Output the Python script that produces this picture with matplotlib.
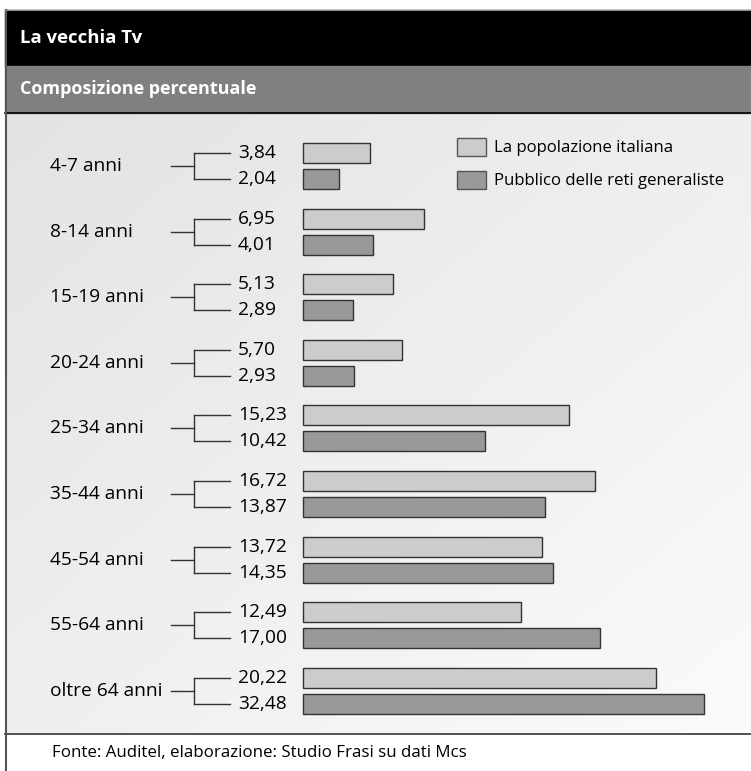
import numpy as np
import matplotlib
matplotlib.use("Agg")
import matplotlib.pyplot as plt
from matplotlib.patches import Rectangle

plt.rcParams['font.family'] = ['Open Sans', 'DejaVu Sans']

# data
age_groups = ["4-7 anni", "8-14 anni", "15-19 anni", "20-24 anni", "25-34 anni",
              "35-44 anni", "45-54 anni", "55-64 anni", "oltre 64 anni"]
popolazione = [3.84, 6.95, 5.13, 5.70, 15.23, 16.72, 13.72, 12.49, 20.22]
pubblico = [2.04, 4.01, 2.89, 2.93, 10.42, 13.87, 14.35, 17.00, 32.48]
series_names = ["La popolazione italiana", "Pubblico delle reti generaliste"]
title = "La vecchia Tv"
subtitle = "Composizione percentuale"
source = "Fonte: Auditel, elaborazione: Studio Frasi su dati Mcs"

W, H = 751, 771
LIGHT = "#cccccc"
DARK = "#999999"
EDGE = "#333333"
BAR_CAP = 23.0      # longest bar is cut short in the original
PX = 17.45          # pixels per percentage point
X0 = 303            # pixel where bars start

fig = plt.figure(figsize=(W / 100, H / 100), dpi=100)

# background / frame in pixel units
bg = fig.add_axes([0, 0, 1, 1])
bg.set_xlim(0, W)
bg.set_ylim(H, 0)
bg.axis("off")

grad_x, grad_y = np.meshgrid(np.linspace(0, 1, 200), np.linspace(0, 1, 200))
grad = 0.5 * grad_x + 0.5 * grad_y
bg.imshow(grad, extent=(6, W, 734, 113), cmap=matplotlib.colors.LinearSegmentedColormap.from_list(
    "g", ["#e3e3e3", "#fbfbfb"]), aspect="auto", zorder=0)
bg.add_patch(Rectangle((5, 10), W, 56, color="black", zorder=1))
bg.add_patch(Rectangle((5, 66), W, 47, color="#808080", zorder=1))
bg.plot([5, W], [113, 113], color="black", lw=1.2, zorder=2)
bg.plot([5, W], [734, 734], color="#444444", lw=1.3, zorder=2)
bg.plot([6, 6], [10, H], color="#555555", lw=1.5, zorder=2)
bg.plot([5, W], [10, 10], color="#888888", lw=0.8, zorder=2)
bg.text(20, 38, title, color="white", fontsize=13.3, fontweight="bold", va="center")
bg.text(20, 89, subtitle, color="white", fontsize=13, fontweight="bold", va="center")
bg.text(52, 753, source, color="black", fontsize=12.2, va="center")

# legend
for k, (name, col) in enumerate(zip(series_names, [LIGHT, DARK])):
    y = 138 + k * 33
    bg.add_patch(Rectangle((457, y), 29, 18, facecolor=col, edgecolor="#555555", lw=1, zorder=3))
    bg.text(494, y + 10, name, fontsize=12.1, va="center", zorder=3)

# bars axes
ax = fig.add_axes([0, (H - 734) / H, 1, (734 - 113) / H])
ax.set_xlim(-X0 / PX, (W - X0) / PX)
pitch = 65.6
ax.set_ylim((734 - 166) / pitch, (113 - 166) / pitch)
ax.axis("off")

def px(x):
    return (x - X0) / PX

pos = np.arange(len(age_groups))
off = 13 / pitch
h = 20 / pitch
ax.barh(pos - off, np.minimum(popolazione, BAR_CAP), height=h, color=LIGHT, edgecolor=EDGE, lw=1)
ax.barh(pos + off, np.minimum(pubblico, BAR_CAP), height=h, color=DARK, edgecolor=EDGE, lw=1)

for i, g in enumerate(age_groups):
    ax.text(px(50), i, g, fontsize=13.8, va="center", ha="left")
    ax.plot([px(171), px(194)], [i, i], color="#333333", lw=1)
    ax.plot([px(194), px(194)], [i - off, i + off], color="#333333", lw=1)
    ax.plot([px(194), px(230)], [i - off, i - off], color="#333333", lw=1)
    ax.plot([px(194), px(230)], [i + off, i + off], color="#333333", lw=1)
    ax.text(px(238), i - off, f"{popolazione[i]:.2f}".replace(".", ","), fontsize=13.8, va="center")
    ax.text(px(238), i + off, f"{pubblico[i]:.2f}".replace(".", ","), fontsize=13.8, va="center")

fig.savefig("out.png", dpi=100)
